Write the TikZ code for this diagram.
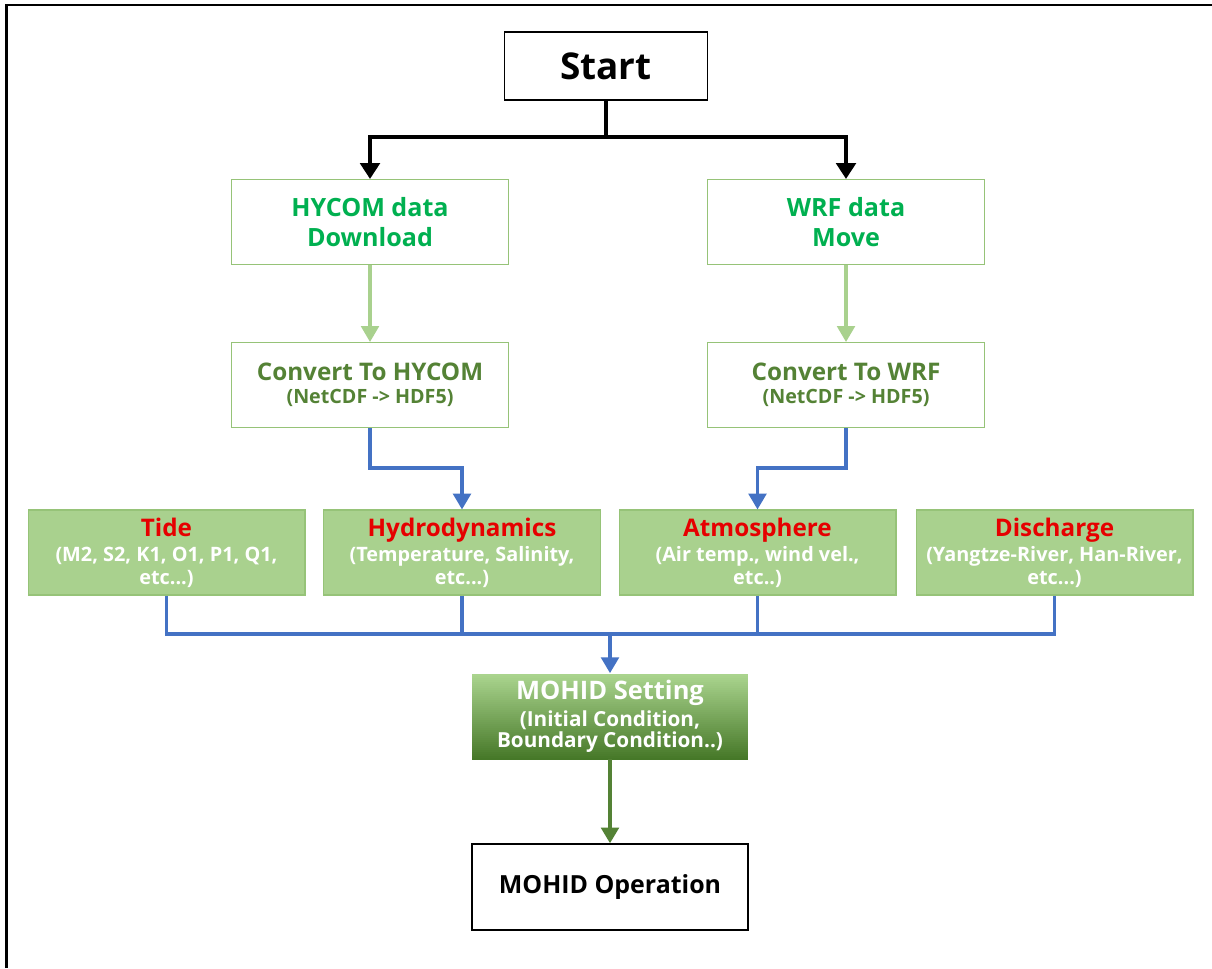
\documentclass[tikz,border=0pt]{standalone}
\usepackage{fontspec}
\setmainfont{Open Sans}
\usetikzlibrary{arrows.meta}
\definecolor{hgreen}{RGB}{0,176,80}
\definecolor{lgreen}{RGB}{169,209,142}
\definecolor{lborder}{RGB}{150,195,120}
\definecolor{dgreen}{RGB}{84,130,53}
\definecolor{cblue}{RGB}{68,114,196}
\definecolor{cred}{RGB}{230,0,0}
\definecolor{sgtop}{RGB}{170,212,142}
\definecolor{sgbot}{RGB}{70,120,40}
\tikzset{
  plainbox/.style={draw=black, line width=0.8pt, fill=white, minimum width=#1, minimum height=1.7cm, align=center, inner sep=2pt},
  greenline/.style={draw=lborder, line width=0.6pt, fill=white, minimum width=5.54cm, minimum height=1.7cm, align=center, inner sep=2pt},
  databox/.style={draw=lborder, line width=0.6pt, fill=lgreen, minimum width=5.54cm, minimum height=1.7cm, align=center, inner sep=2pt, text=white, font=\bfseries\fontsize{11.3}{12.6}\selectfont},
  setbox/.style={draw=none, minimum width=5.52cm, minimum height=1.7cm, align=center, inner sep=2pt, text=white, font=\bfseries\fontsize{11.8}{12}\selectfont},
  blackarrow/.style={draw=black, line width=2.3pt, -{Triangle[length=9pt,width=11pt]}},
  blackline/.style={draw=black, line width=2.3pt},
  lightarrow/.style={draw=lgreen, line width=1.8pt, -{Triangle[length=9pt,width=10pt]}},
  bluearrow/.style={draw=cblue, line width=2pt, -{Triangle[length=9pt,width=10pt]}},
  blueline/.style={draw=cblue, line width=2pt},
  darkarrow/.style={draw=dgreen, line width=2.2pt, -{Triangle[length=9pt,width=10pt]}}
}
\newcommand{\ttlfont}{\bfseries\fontsize{13.8}{16}\selectfont}
\newcommand{\settlfont}{\bfseries\fontsize{14.5}{16}\selectfont}
\begin{document}
\begin{tikzpicture}[x=0.02cm,y=-0.02cm]
\useasboundingbox (0,0) rectangle (1212,968);
\fill[white] (0,0) rectangle (1212,968);
\draw[black, line width=1.2pt] (6.5,968) -- (6.5,5) -- (1212,5);

% gradient background of the MOHID Setting box
\foreach \i in {0,...,42} {
  \pgfmathsetmacro{\p}{100*\i/42}
  \fill[sgbot!\p!sgtop] (472,{673.5+2*\i}) rectangle (748,{673.5+2*\i+2.2});
}

% nodes
\node[plainbox=4.06cm, minimum height=1.36cm, font=\bfseries\fontsize{21}{25}\selectfont] (start) at (606,66) {Start};
\node[greenline, text=hgreen, font=\bfseries\fontsize{14.3}{17.5}\selectfont] (hycom) at (370,222) {HYCOM data\\Download};
\node[greenline, text=hgreen, font=\bfseries\fontsize{14.3}{17.5}\selectfont] (wrf) at (846,222) {WRF data\\Move};
\node[greenline, text=dgreen, font=\bfseries\fontsize{11.2}{13}\selectfont] (convh) at (370,385) {{\ttlfont Convert To HYCOM}\\(NetCDF -> HDF5)};
\node[greenline, text=dgreen, font=\bfseries\fontsize{11.2}{13}\selectfont] (convw) at (846,385) {{\ttlfont Convert To WRF}\\(NetCDF -> HDF5)};

\node[databox] (tide) at (166.5,552.5) {{\ttlfont\color{cred}Tide}\\[2pt](M2, S2, K1, O1, P1, Q1,\\etc...)};
\node[databox] (hydro) at (462,552.5) {{\ttlfont\color{cred}Hydrodynamics}\\[2pt](Temperature, Salinity,\\etc...)};
\node[databox] (atmos) at (757.5,552.5) {{\ttlfont\color{cred}Atmosphere}\\[2pt](Air temp., wind vel.,\\etc..)};
\node[databox] (disc) at (1054.5,552.5) {{\ttlfont\color{cred}Discharge}\\[2pt](Yangtze-River, Han-River,\\etc...)};

\node[setbox] (setting) at (610,716) {{\settlfont MOHID Setting}\\[2pt](Initial Condition,\\Boundary Condition..)};
\node[plainbox=5.52cm, minimum height=1.72cm, font=\bfseries\fontsize{14.2}{16}\selectfont] (oper) at (610,887) {MOHID Operation};

% connectors
\coordinate (split) at (606,137);
\draw[blackline] (start.south) -- (split);
\draw[blackarrow] (split) -| (hycom.north);
\draw[blackarrow] (split) -| (wrf.north);

\draw[lightarrow] (hycom.south) -- (convh.north);
\draw[lightarrow] (wrf.south) -- (convw.north);

\coordinate (jh) at (370,468);
\coordinate (jw) at (846,468);
\draw[bluearrow] (convh.south) -- (jh) -| (hydro.north);
\draw[bluearrow] (convw.south) -- (jw) -| (atmos.north);

\coordinate (bus) at (610,634);
\draw[blueline] (tide.south) |- (bus);
\draw[blueline] (disc.south) |- (bus);
\draw[blueline] (hydro.south) -- (hydro.south |- bus);
\draw[blueline] (atmos.south) -- (atmos.south |- bus);
\draw[bluearrow] (bus) -- (setting.north);

\draw[darkarrow] (setting.south) -- (oper.north);
\end{tikzpicture}
\end{document}
